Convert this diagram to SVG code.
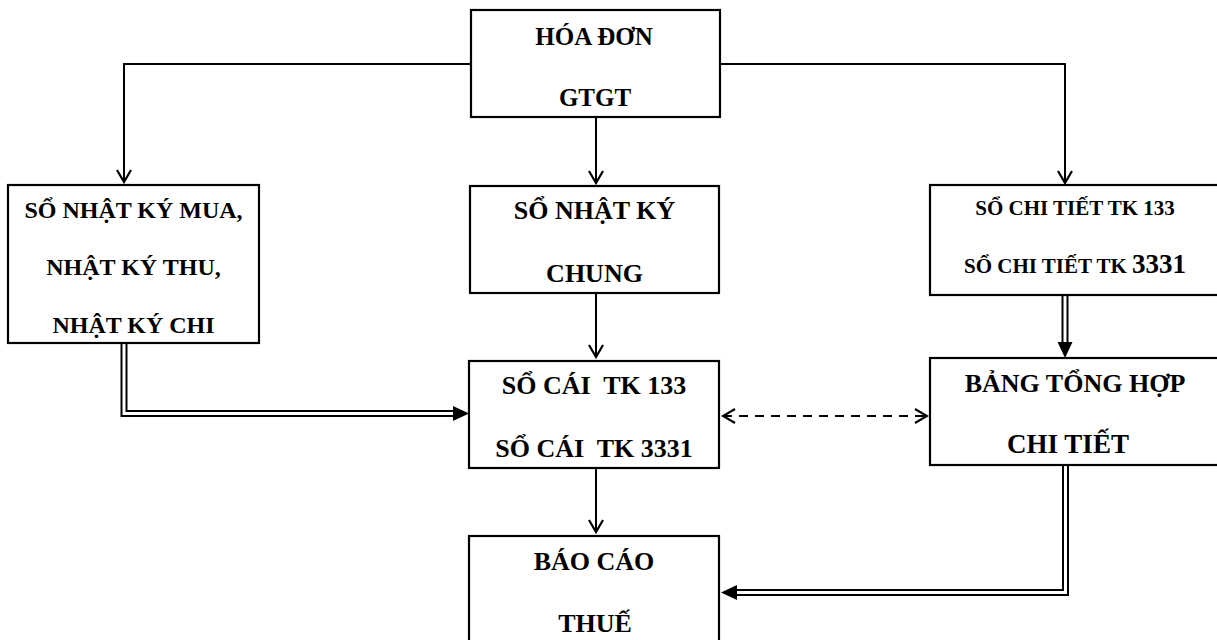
<svg xmlns="http://www.w3.org/2000/svg" width="1217" height="640" viewBox="0 0 1217 640">
<style>
.box{fill:#fff;stroke:#000;stroke-width:2.2}
.t{font-family:"Liberation Serif","Times New Roman",serif;font-weight:bold;fill:#000;text-anchor:middle}
.ln{fill:none;stroke:#000;stroke-width:2}
.dbl{fill:none;stroke:#000;stroke-width:7;stroke-linejoin:miter}
.dblw{fill:none;stroke:#fff;stroke-width:3;stroke-linejoin:miter}
</style>
<defs>
<marker id="open" viewBox="0 0 16 16" markerWidth="16" markerHeight="16" refX="14" refY="8" orient="auto-start-reverse" markerUnits="userSpaceOnUse">
<path d="M2,1 L14,8 L2,15" fill="none" stroke="#000" stroke-width="2.2" stroke-dasharray="none"/>
</marker>
<marker id="fill" viewBox="0 0 16 16" markerWidth="16" markerHeight="16" refX="0" refY="8" orient="auto" markerUnits="userSpaceOnUse">
<path d="M0,0.5 L16,8 L0,15.5 Z" fill="#000"/>
</marker>
</defs>

<g id="connectors">
<path class="ln" d="M471,64 H124 V182" marker-end="url(#open)"/>
<path class="ln" d="M720,64 H1065 V183" marker-end="url(#open)"/>
<path class="ln" d="M596,117 V183" marker-end="url(#open)"/>
<path class="ln" d="M596,293 V357" marker-end="url(#open)"/>
<path class="ln" d="M596,468 V532" marker-end="url(#open)"/>
<path class="ln" d="M723,416 H927" stroke-dasharray="9,7" marker-start="url(#open)" marker-end="url(#open)"/>
<path class="dbl" d="M124,344 V413.5 H453" marker-end="url(#fill)"/>
<path class="dblw" d="M124,344 V413.5 H453"/>
<path class="dbl" d="M1065,296 V342" marker-end="url(#fill)"/>
<path class="dblw" d="M1065,296 V342"/>
<path class="dbl" d="M1065.5,466 V592.5 H737" marker-end="url(#fill)"/>
<path class="dblw" d="M1065.5,466 V592.5 H737"/>
</g>

<g id="hoa-don">
<rect class="box" x="471" y="10" width="249" height="107"/>
<text class="t" x="594" y="45" font-size="25">HÓA ĐƠN</text>
<text class="t" x="595" y="106" font-size="25">GTGT</text>
</g>

<g id="so-nhat-ky-mua">
<rect class="box" x="8" y="185" width="251" height="158"/>
<text class="t" x="133.5" y="218" font-size="24">SỔ NHẬT KÝ MUA,</text>
<text class="t" x="133.5" y="275" font-size="24">NHẬT KÝ THU,</text>
<text class="t" x="133.5" y="333" font-size="24">NHẬT KÝ CHI</text>
</g>

<g id="so-nhat-ky-chung">
<rect class="box" x="470" y="186" width="249" height="107"/>
<text class="t" x="594.5" y="219" font-size="26">SỔ NHẬT KÝ</text>
<text class="t" x="594.5" y="282" font-size="26">CHUNG</text>
</g>

<g id="so-chi-tiet">
<rect class="box" x="930" y="185" width="292" height="110"/>
<text class="t" x="1075" y="215" font-size="21">SỔ CHI TIẾT TK 133</text>
<text class="t" x="1075" y="273" font-size="21">SỔ CHI TIẾT TK <tspan font-size="27">3331</tspan></text>
</g>

<g id="so-cai">
<rect class="box" x="469" y="361" width="250" height="107"/>
<text class="t" x="594" y="394" font-size="26" xml:space="preserve">SỔ CÁI  TK 133</text>
<text class="t" x="594" y="457" font-size="26" xml:space="preserve">SỔ CÁI  TK 3331</text>
</g>

<g id="bang-tong-hop">
<rect class="box" x="930" y="358" width="292" height="107"/>
<text class="t" x="1075" y="392" font-size="26">BẢNG TỔNG HỢP</text>
<text class="t" x="1068" y="453" font-size="27">CHI TIẾT</text>
</g>

<g id="bao-cao-thue">
<rect class="box" x="469" y="536" width="250" height="110"/>
<text class="t" x="594" y="570" font-size="26">BÁO CÁO</text>
<text class="t" x="595" y="632" font-size="26">THUẾ</text>
</g>
</svg>
